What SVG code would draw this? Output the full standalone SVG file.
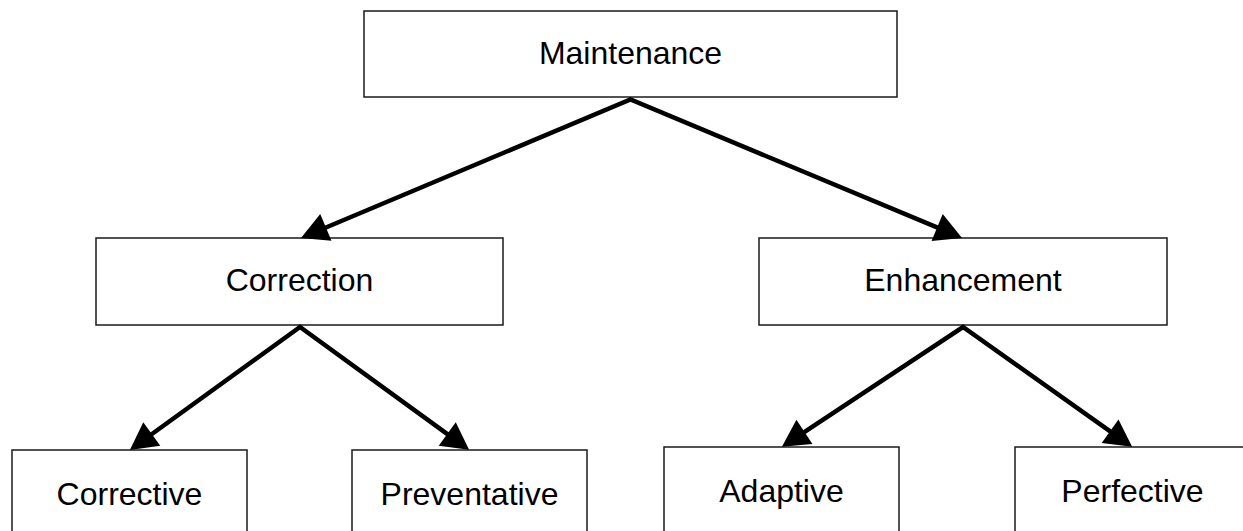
<svg xmlns="http://www.w3.org/2000/svg" width="1243" height="531" viewBox="0 0 1243 531">
  <style>
    .box { fill: #ffffff; stroke: #1a1a1a; stroke-width: 1.5; }
    .lbl { font-family: "Liberation Sans", Arial, sans-serif; font-size: 32px; fill: #000000; text-anchor: middle; }
    .conn { fill: none; stroke: #000000; stroke-width: 4.5; stroke-linejoin: miter; stroke-miterlimit: 10; marker-start: url(#ah); marker-end: url(#ah); }
  </style>
  <defs>
    <marker id="ah" markerUnits="userSpaceOnUse" markerWidth="28" markerHeight="30" refX="7" refY="14.5" orient="auto-start-reverse" viewBox="0 0 28 30" overflow="visible">
      <path d="M0,0 L27,14.5 L0,29 Z" fill="#000000"/>
    </marker>
  </defs>
  <rect width="1243" height="531" fill="#ffffff"/>

  <g id="node-maintenance">
    <rect class="box" x="364" y="11" width="533" height="86"/>
    <text class="lbl" x="630.5" y="64">Maintenance</text>
  </g>
  <g id="node-correction">
    <rect class="box" x="96" y="238" width="407" height="87"/>
    <text class="lbl" x="299.5" y="291">Correction</text>
  </g>
  <g id="node-enhancement">
    <rect class="box" x="759" y="238" width="408" height="87"/>
    <text class="lbl" x="963" y="291">Enhancement</text>
  </g>
  <g id="node-corrective">
    <rect class="box" x="12" y="450" width="235" height="100"/>
    <text class="lbl" x="129.5" y="505">Corrective</text>
  </g>
  <g id="node-preventative">
    <rect class="box" x="352" y="450" width="235" height="100"/>
    <text class="lbl" x="469.5" y="505">Preventative</text>
  </g>
  <g id="node-adaptive">
    <rect class="box" x="664" y="447" width="235" height="100"/>
    <text class="lbl" x="781.5" y="502">Adaptive</text>
  </g>
  <g id="node-perfective">
    <rect class="box" x="1015" y="447" width="235" height="100"/>
    <text class="lbl" x="1132.5" y="502">Perfective</text>
  </g>

  <g id="connectors">
    <path class="conn" d="M319.4,230.2 L630.5,99.5 L943.6,230.2"/>
    <path class="conn" d="M146.1,438.2 L300,327 L452.9,438.1"/>
    <path class="conn" d="M798.6,435.8 L963,327 L1115.8,435.3"/>
  </g>
</svg>
